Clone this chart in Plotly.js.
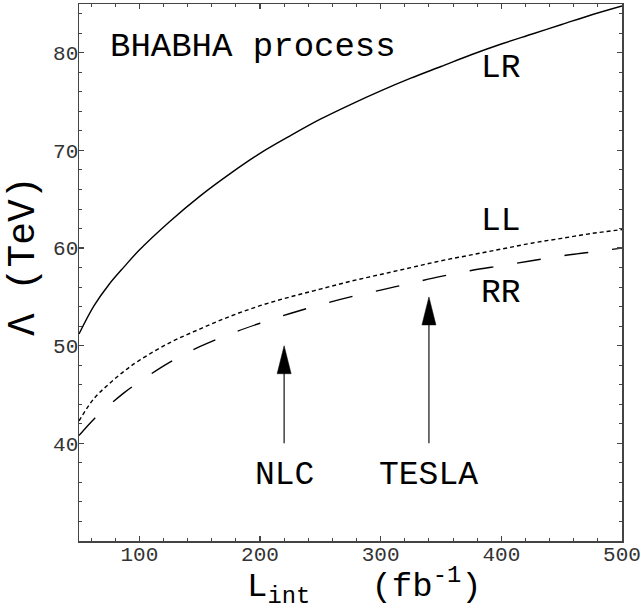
<!DOCTYPE html>
<html>
<head>
<meta charset="utf-8">
<script src="https://cdn.plot.ly/plotly-3.0.1.min.js"></script>
<style>html,body{margin:0;padding:0;background:#fff;}</style>
</head>
<body>
<div id="chart" style="width:641px;height:612px;"></div>
<script>
// Integrated luminosity (fb^-1)
const lumi = [50, 62.5, 75, 87.5, 100, 125, 150, 175, 200, 225, 250, 275, 300, 325, 350, 375, 400, 425, 450, 475, 500];
// Lambda reach (TeV) for each helicity model
const lambdaLR = [51.2, 54.1, 56.3, 58.1, 59.8, 62.7, 65.3, 67.6, 69.7, 71.5, 73.2, 74.7, 76.1, 77.4, 78.6, 79.8, 80.9, 81.9, 82.9, 83.9, 84.8];
const lambdaLL = [42.3, 44.6, 46.1, 47.4, 48.5, 50.3, 51.7, 53.0, 54.1, 55.0, 55.8, 56.6, 57.3, 58.0, 58.7, 59.3, 59.9, 60.5, 61.0, 61.5, 61.9];
const lambdaRR = [40.8, 42.5, 43.9, 45.2, 46.3, 48.3, 49.9, 51.2, 52.3, 53.3, 54.2, 55.0, 55.7, 56.4, 57.1, 57.7, 58.2, 58.7, 59.2, 59.6, 60.0];

// Collider markers (arrows)
const colliderNames = ['NLC', 'TESLA'];
const colliderLumi = [220, 340];
const colliderTip = [50, 55];
const colliderTail = [40, 40];
const colliderLabelY = 36.7;

// Curve labels
const curveNames = ['LR', 'LL', 'RR'];
const curveLabelX = [400, 400, 400];
const curveLabelY = [78.4, 62.7, 55.4];

const xTicks = [100, 200, 300, 400, 500];
const yTicks = [40, 50, 60, 70, 80];
const xRange = [50, 500];
const yRange = [30, 85];

const W = 641, H = 612;
const M = {l: 79, r: 19, t: 4, b: 71};
const plotW = W - M.l - M.r, plotH = H - M.t - M.b;
const xPerPx = (xRange[1] - xRange[0]) / plotW;
const yPerPx = (yRange[1] - yRange[0]) / plotH;

const mono = 'Liberation Mono, Courier New, monospace';

const traces = [
  {x: lumi, y: lambdaLR, mode: 'lines', line: {color: '#000', width: 1.4, shape: 'spline', smoothing: 1}},
  {x: lumi, y: lambdaLL, mode: 'lines', line: {color: '#000', width: 1.4, shape: 'spline', smoothing: 1, dash: '4px,3px'}},
  {x: lumi, y: lambdaRR, mode: 'lines', line: {color: '#000', width: 1.4, shape: 'spline', smoothing: 1, dash: '24px,24px'}}
];

const shapes = [];
const annotations = [];
const headLen = 28 * yPerPx, headHalf = 7 * xPerPx;
colliderNames.forEach((name, i) => {
  const x = colliderLumi[i];
  shapes.push({type: 'line', xref: 'x', yref: 'y', x0: x, x1: x, y0: colliderTail[i], y1: colliderTip[i] - headLen * 0.9,
    line: {color: '#333', width: 1.4}});
  shapes.push({type: 'path', xref: 'x', yref: 'y',
    path: `M${x},${colliderTip[i]} L${x - headHalf},${colliderTip[i] - headLen} L${x + headHalf},${colliderTip[i] - headLen} Z`,
    fillcolor: '#000', line: {color: '#000', width: 0.5}});
  annotations.push({x: x, y: colliderLabelY, xref: 'x', yref: 'y', text: name, showarrow: false,
    xanchor: 'center', yanchor: 'middle', font: {family: mono, size: 33, color: '#000'}});
});
curveNames.forEach((name, i) => {
  annotations.push({x: curveLabelX[i], y: curveLabelY[i], xref: 'x', yref: 'y', text: name, showarrow: false,
    xanchor: 'center', yanchor: 'middle', font: {family: mono, size: 33, color: '#000'}});
});
annotations.push({x: 74.3, y: 80.6, xref: 'x', yref: 'y', text: 'BHABHA process', showarrow: false,
  xanchor: 'left', yanchor: 'middle', font: {family: mono, size: 34, color: '#000'}});
// axis titles
annotations.push({x: (364 - M.l) / plotW, y: -(586 - (H - M.b)) / plotH, xref: 'paper', yref: 'paper',
  text: 'L<sub>int</sub>\u00a0\u00a0\u00a0(fb<sup>-1</sup>)', showarrow: false,
  xanchor: 'center', yanchor: 'middle', font: {family: mono, size: 34, color: '#000'}});
annotations.push({x: (24 - M.l) / plotW, y: ((H - M.b) - 256) / plotH, xref: 'paper', yref: 'paper',
  text: '\u039b (TeV)', textangle: -90, showarrow: false,
  xanchor: 'center', yanchor: 'middle', font: {family: mono, size: 38, color: '#000'}});

const axisCommon = {
  showgrid: false, zeroline: false, showline: true, linecolor: '#444', linewidth: 1.5,
  mirror: 'allticks', ticks: 'inside', ticklen: 5, tickwidth: 1.2, tickcolor: '#444',
  tickfont: {family: mono, size: 21, color: '#333'}, tickmode: 'array'
};

const layout = {
  width: W, height: H, margin: M, showlegend: false,
  paper_bgcolor: '#fff', plot_bgcolor: '#fff',
  xaxis: Object.assign({}, axisCommon, {range: xRange, tickvals: xTicks, ticktext: xTicks.map(String),
    ticklabelstandoff: -7,
    minor: {tickmode: 'linear', tick0: 0, dtick: 20, ticks: 'inside', ticklen: 3, tickwidth: 1, tickcolor: '#444'}}),
  yaxis: Object.assign({}, axisCommon, {range: yRange, tickvals: yTicks, ticktext: yTicks.map(String),
    ticklabelstandoff: -5,
    minor: {tickmode: 'linear', tick0: 0, dtick: 2, ticks: 'inside', ticklen: 3, tickwidth: 1, tickcolor: '#444'}}),
  shapes: shapes, annotations: annotations
};

Plotly.newPlot('chart', traces, layout, {staticPlot: true, displayModeBar: false});
</script>
</body>
</html>
